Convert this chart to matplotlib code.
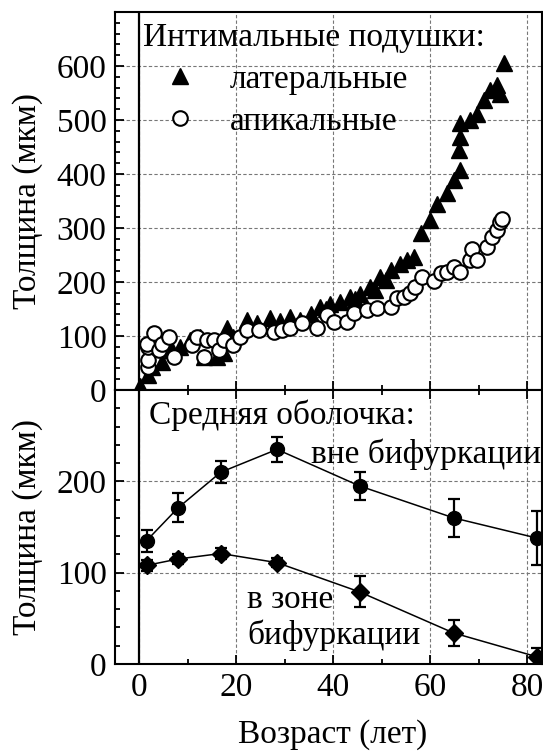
import matplotlib.pyplot as plt
from matplotlib.ticker import MultipleLocator
from matplotlib.lines import Line2D

plt.rcParams['font.family'] = ['Liberation Serif', 'DejaVu Serif']
plt.rcParams['font.size'] = 24

# intimal cushions, lateral (triangles)
lat_x = [0.1, 1.9, 2.6, 4.7, 6.7, 8.4, 10.5, 12.6, 13.3, 16.0, 17.4, 18.1, 19.4,
         22.2, 24.3, 27.0, 29.0, 31.1, 33.2, 35.5, 37.3, 38.5, 39.4, 41.4, 43.5,
         44.5, 45.6, 47.6, 48.5, 49.7, 50.8, 51.8, 53.8, 55.2, 56.6, 58.0, 60.0,
         61.4, 63.4, 64.8, 66.2, 65.9, 66.2, 66.2, 68.2, 69.6, 71.0, 72.4, 73.8,
         74.4, 75.2]
lat_y = [8, 28, 43, 52, 74, 80, 93, 99, 62, 62, 68, 114, 99,
         130, 124, 133, 128, 136, 130, 140, 154, 150, 160, 163, 172,
         168, 178, 190, 186, 210, 204, 222, 234, 240, 247, 290, 315,
         345, 364, 389, 407, 444, 469, 494, 500, 512, 537, 555, 565,
         549, 605]

# intimal cushions, apical (open circles)
api_x = [1.9, 1.9, 1.9, 1.6, 3.0, 4.0, 4.7, 6.1, 7.1, 10.9, 11.9, 13.3, 14.0,
         15.4, 16.4, 17.4, 19.4, 20.8, 22.2, 24.6, 27.7, 29.4, 31.1, 33.5, 36.6,
         38.7, 40.1, 42.8, 44.2, 46.9, 49.0, 51.8, 53.1, 54.5, 55.9, 56.9, 58.3,
         60.7, 62.1, 63.4, 64.8, 66.2, 68.2, 68.6, 69.6, 71.7, 72.7, 73.8, 74.4, 74.8]
api_y = [43, 55, 80, 86, 105, 74, 86, 99, 62, 84, 99, 62, 93,
         93, 74, 93, 83, 99, 111, 111, 108, 111, 114, 124, 114,
         139, 126, 126, 142, 148, 151, 154, 170, 173, 179, 191, 210,
         201, 216, 219, 228, 219, 241, 262, 241, 265, 284, 296, 311, 317]

# media, outside bifurcation
out_x = [1.5, 8.0, 16.8, 28.4, 45.4, 64.8, 81.9]
out_y = [135, 171, 210, 235, 195, 160, 138]
out_err = [12, 16, 12, 14, 15, 21, 30]

# media, in bifurcation zone
zone_x = [1.5, 8.0, 16.8, 28.4, 45.4, 64.8, 81.9]
zone_y = [108, 115, 121, 111, 79, 34, 8]
zone_err = [6, 6, 6, 5, 17, 14, 9]

fig = plt.figure(figsize=(5.43, 7.55), dpi=100)
ax1 = fig.add_axes([0.2118, 0.4834, 0.7862, 0.5007])
ax2 = fig.add_axes([0.2118, 0.1205, 0.7862, 0.3629], sharex=ax1)

for ax in (ax1, ax2):
    ax.set_xlim(-5, 83)
    ax.xaxis.set_major_locator(MultipleLocator(20))
    ax.xaxis.set_minor_locator(MultipleLocator(10))
    ax.yaxis.set_minor_locator(MultipleLocator(20))
    ax.tick_params(which='both', direction='in', width=1.3, pad=6)
    ax.tick_params(which='major', length=6.5)
    ax.tick_params(which='minor', length=3.5)
    ax.grid(True, which='major', color='#777777', linestyle=(0, (3, 2)), linewidth=0.8)
    ax.axvline(0, color='black', linewidth=1.6, zorder=2)
    for sp in ax.spines.values():
        sp.set_linewidth(1.5)

ax1.set_ylim(0, 700)
ax1.set_yticks([0, 100, 200, 300, 400, 500, 600])
ax1.tick_params(axis='x', labelbottom=False)
ax1.plot(lat_x, lat_y, linestyle='none', marker='^', markersize=12,
         color='black', zorder=3)
ax1.plot(api_x, api_y, linestyle='none', marker='o', markersize=10.5,
         markerfacecolor='white', markeredgecolor='black', markeredgewidth=1.5, zorder=4)

ax1.text(0.065, 0.972, 'Интимальные подушки:', transform=ax1.transAxes,
         ha='left', va='top')
handles = [Line2D([], [], linestyle='none', marker='^', markersize=12, color='black'),
           Line2D([], [], linestyle='none', marker='o', markersize=10.5,
                  markerfacecolor='white', markeredgecolor='black', markeredgewidth=1.5)]
ax1.legend(handles, ['латеральные', 'апикальные'], loc='upper left',
           bbox_to_anchor=(0.113, 0.862), frameon=False, handlelength=1.0,
           handletextpad=1.0, labelspacing=0.35, borderpad=0, borderaxespad=0)

ax2.set_ylim(0, 300)
ax2.set_yticks([0, 100, 200])
ax2.tick_params(axis='x', which='both', top=True)
ax2.errorbar(out_x, out_y, yerr=out_err, marker='o', markersize=10, color='black',
             linewidth=1.1, elinewidth=1.6, capsize=4.5, capthick=1.6, zorder=3)
ax2.errorbar(zone_x, zone_y, yerr=zone_err, marker='D', markersize=9, color='black',
             linewidth=1.1, elinewidth=1.6, capsize=4.5, capthick=1.6, zorder=3)

ax2.text(0.08, 0.965, 'Средняя оболочка:', transform=ax2.transAxes, ha='left', va='top')
ax2.text(0.997, 0.765, 'вне бифуркации', transform=ax2.transAxes, ha='right', va='center')
ax2.text(0.31, 0.235, 'в зоне', transform=ax2.transAxes, ha='left', va='center')
ax2.text(0.31, 0.105, 'бифуркации', transform=ax2.transAxes, ha='left', va='center')

fig.text(0.05, 0.734, 'Толщина (мкм)', rotation=90, ha='center', va='center')
fig.text(0.05, 0.302, 'Толщина (мкм)', rotation=90, ha='center', va='center')
fig.text(0.612, 0.027, 'Возраст (лет)', ha='center', va='center')

fig.savefig('out.png', dpi=100)
